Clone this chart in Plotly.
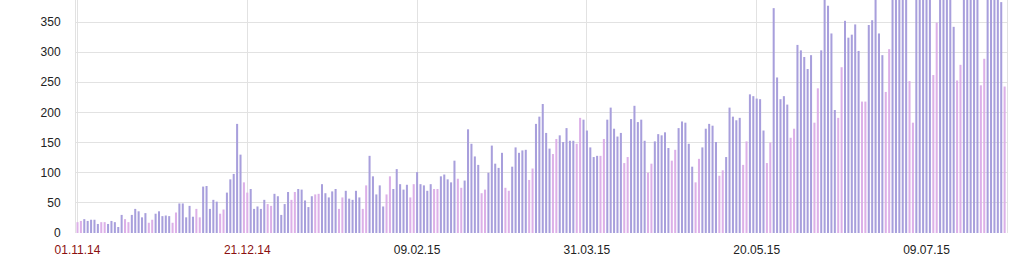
import pandas as pd
import plotly.graph_objects as go

start_date = "2014-11-01"
values = [
    18, 20, 23, 20, 22, 22, 15,
    18, 18, 15, 20, 18, 10, 30,
    23, 18, 30, 40, 36, 26, 33,
    17, 22, 32, 36, 28, 29, 28,
    17, 34, 49, 49, 26, 45, 27,
    40, 26, 77, 78, 40, 55, 52,
    32, 39, 67, 89, 98, 181, 130,
    84, 67, 73, 40, 44, 40, 55,
    48, 45, 65, 61, 30, 48, 68,
    55, 68, 73, 72, 54, 43, 61,
    64, 65, 81, 66, 59, 69, 73,
    40, 59, 70, 57, 55, 70, 59,
    40, 79, 128, 94, 64, 79, 44,
    64, 94, 73, 106, 81, 72, 80,
    59, 81, 101, 81, 79, 70, 81,
    73, 73, 94, 97, 89, 84, 120,
    90, 75, 87, 172, 148, 127, 113,
    66, 72, 100, 145, 115, 108, 133,
    75, 70, 110, 142, 133, 137, 138,
    88, 107, 181, 193, 214, 166, 140,
    131, 156, 162, 151, 174, 153, 153,
    148, 191, 188, 170, 142, 126, 128,
    128, 156, 188, 208, 173, 160, 166,
    116, 126, 189, 211, 184, 188, 153,
    100, 115, 152, 164, 162, 167, 141,
    120, 138, 174, 185, 183, 148, 110,
    84, 123, 142, 173, 181, 178, 151,
    95, 104, 126, 208, 193, 187, 191,
    113, 152, 230, 227, 223, 222, 170,
    116, 150, 373, 258, 222, 227, 213,
    158, 173, 312, 303, 292, 272, 295,
    183, 240, 303, 405, 377, 331, 204,
    191, 275, 352, 324, 329, 346, 302,
    218, 218, 345, 353, 410, 331, 295,
    234, 305, 420, 445, 430, 415, 400,
    252, 183, 410, 440, 455, 430, 395,
    262, 349, 425, 460, 440, 405, 342,
    253, 279, 415, 450, 470, 435, 400,
    245, 289, 430, 455, 440, 420, 383,
    243,
]
tick_dates = ["2014-11-01", "2014-12-21", "2015-02-09", "2015-03-31", "2015-05-20", "2015-07-09"]
tick_labels = ["01.11.14", "21.12.14", "09.02.15", "31.03.15", "20.05.15", "09.07.15"]
tick_colors = ["#8b1010", "#8b1010", "#222222", "#222222", "#222222", "#222222"]
y_ticks = [0, 50, 100, 150, 200, 250, 300, 350]

dates = pd.date_range(start=start_date, periods=len(values), freq="D")
colors = ["#dcb0e8" if d.weekday() >= 5 else "#a89fdc" for d in dates]

fig = go.Figure(go.Bar(
    x=dates, y=values, marker=dict(color=colors, line=dict(width=0)),
    width=0.6 * 86400000, hoverinfo="x+y",
))

fig.update_layout(
    width=1024, height=263,
    margin=dict(l=76, r=17, t=0, b=30),
    paper_bgcolor="white", plot_bgcolor="white",
    showlegend=False,
    font=dict(family="Liberation Sans, Arial, sans-serif", size=12, color="#222222"),
)
fig.update_xaxes(
    type="date",
    range=["2014-10-31 13:26", "2015-08-01 16:48"],
    tickvals=tick_dates,
    ticktext=[f'<span style="color:{c}">{t}</span>' for t, c in zip(tick_labels, tick_colors)],
    showgrid=True, gridcolor="#e2e2e2", gridwidth=1,
    ticks="", showline=False, zeroline=False,
    ticklabelstandoff=8,
)
fig.update_yaxes(
    range=[0, 386.5],
    tickvals=y_ticks,
    showgrid=True, gridcolor="#e2e2e2", gridwidth=1,
    ticks="", zeroline=False,
    showline=True, linecolor="#e2e2e2", mirror=True,
    ticklabelstandoff=12,
)

fig.write_html("out.html")
